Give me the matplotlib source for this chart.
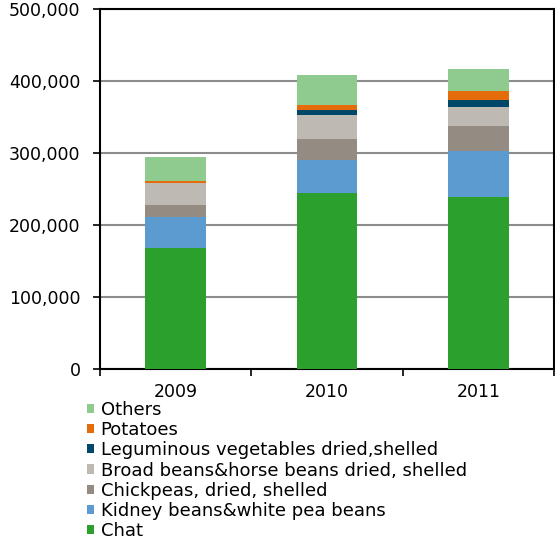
import matplotlib
matplotlib.use("Agg")
import matplotlib.pyplot as plt
from matplotlib.patches import Patch
from matplotlib.ticker import FuncFormatter, FixedLocator
import numpy as np

# export values by product, per year
years = ["2009", "2010", "2011"]
chat = [168500, 244900, 238500]
kidney = [42200, 45800, 63900]
chickpeas = [17100, 29200, 35100]
broad_beans = [30100, 33300, 26000]
leguminous = [1000, 6900, 10500]
potatoes = [2500, 6100, 12100]
others = [33400, 42100, 30600]

series = [
    ("Chat", chat, "#2ca02c"),
    ("Kidney beans&white pea beans", kidney, "#5b9bcf"),
    ("Chickpeas, dried, shelled", chickpeas, "#948b83"),
    ("Broad beans&horse beans dried, shelled", broad_beans, "#bebab3"),
    ("Leguminous vegetables dried,shelled", leguminous, "#00476a"),
    ("Potatoes", potatoes, "#e46c0a"),
    ("Others", others, "#8fcb8f"),
]

plt.rcParams['font.family'] = ['DejaVu Sans']

fig = plt.figure(figsize=(5.55, 5.40), dpi=100)
ax = fig.add_axes([100 / 555, 1 - 369 / 540, 454 / 555, 360 / 540])

x = np.arange(len(years))
bottom = np.zeros(len(years))
for name, vals, col in series:
    ax.bar(x, vals, width=0.4, bottom=bottom, color=col, zorder=3)
    bottom += np.array(vals)

ax.set_xlim(-0.5, 2.5)
ax.set_ylim(0, 500000)
ax.set_yticks(np.arange(0, 500001, 100000))
ax.yaxis.set_major_formatter(FuncFormatter(lambda v, p: "{:,.0f}".format(v)))
ax.grid(axis="y", color="#8c8c8c", linewidth=1.5, zorder=0)

# year labels centred under bars, ticks on category boundaries
ax.xaxis.set_major_locator(FixedLocator([-0.5, 0.5, 1.5, 2.5]))
ax.xaxis.set_minor_locator(FixedLocator(x))
ax.set_xticklabels([], minor=False)
ax.set_xticklabels(years, minor=True)
ax.tick_params(axis="x", which="major", direction="out", length=5, width=1.2)
ax.tick_params(axis="x", which="minor", length=0, pad=10, labelsize=12.5)
ax.tick_params(axis="y", direction="out", length=5, width=1.2, pad=9, labelsize=12.5)

for s in ax.spines.values():
    s.set_linewidth(1.5)
    s.set_color("black")

handles = [Patch(facecolor=c, edgecolor="none", label=n) for n, v, c in series][::-1]
fig.legend(handles=handles, loc="upper left", bbox_to_anchor=(87 / 555, 1 - 401 / 540),
           frameon=False, fontsize=13, handlelength=0.4, handleheight=0.4,
           handletextpad=0.35, labelspacing=0.12, borderpad=0, borderaxespad=0)

fig.savefig("out.png", dpi=100)
